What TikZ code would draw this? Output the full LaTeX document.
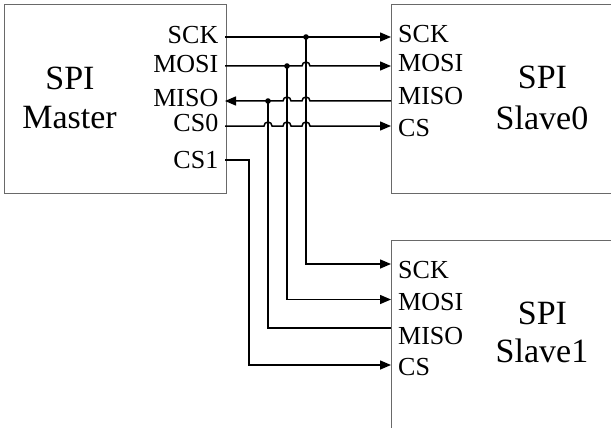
\documentclass[tikz,border=0pt]{standalone}
\usepackage{fontspec}
\setmainfont{Liberation Serif}
\usetikzlibrary{arrows.meta,calc}
\definecolor{boxgray}{RGB}{105,105,105}
\begin{document}
\begin{tikzpicture}[x=1pt,y=-1pt,
  box/.style={draw=boxgray, line width=1.1pt, inner sep=0pt, anchor=north west},
  wire/.style={line width=1.5pt, black},
  arr/.style={wire, -{Triangle[length=11pt,width=9pt]}},
  pinl/.style={font=\fontsize{26}{26}\selectfont, inner sep=0pt, anchor=base east},
  pinr/.style={font=\fontsize{26}{26}\selectfont, inner sep=0pt, anchor=base west},
  title/.style={font=\fontsize{34}{34}\selectfont, inner sep=0pt, anchor=base},
  dot/.style={fill=black}
]
\useasboundingbox (0,0) rectangle (611,428);
% boxes
\node[box, minimum width=222pt, minimum height=189pt] (master) at (4,4) {};
\node[box, minimum width=260pt, minimum height=189pt] (slave0) at (391,4) {};
\node[box, minimum width=260pt, minimum height=230pt] (slave1) at (391,240) {};
% titles
\node[title] (tm1) at (70,89) {SPI};
\node[title] (tm2) at (69.5,128.5) {Master};
\node[title] (ts01) at (542.5,88.5) {SPI};
\node[title] (ts02) at (542,129) {Slave0};
\node[title] (ts11) at (542.5,324) {SPI};
\node[title] (ts12) at (542,362) {Slave1};
% pin labels master
\node[pinl] (lm1) at (218.5,43.3) {SCK};
\node[pinl] (lm2) at (218.5,72.3) {MOSI};
\node[pinl] (lm3) at (218.5,106.7) {MISO};
\node[pinl] (lm4) at (218.5,131.7) {CS0};
\node[pinl] (lm5) at (218.5,168) {CS1};
% pin labels slave0
\node[pinr] (ls01) at (398,42.3) {SCK};
\node[pinr] (ls02) at (398,71.7) {MOSI};
\node[pinr] (ls03) at (398,105) {MISO};
\node[pinr] (ls04) at (398,136.7) {CS};
% pin labels slave1
\node[pinr] (ls11) at (398,278.5) {SCK};
\node[pinr] (ls12) at (398,310) {MOSI};
\node[pinr] (ls13) at (398,344) {MISO};
\node[pinr] (ls14) at (398,375) {CS};
% pin coordinates
\coordinate (m-sck) at (225,37);
\coordinate (m-mosi) at (225,66);
\coordinate (m-miso) at (225,101);
\coordinate (m-cs0) at (225,126);
\coordinate (m-cs1) at (225,160);
\coordinate (s0-sck) at (391,37);
\coordinate (s0-mosi) at (391,66);
\coordinate (s0-miso) at (391,101);
\coordinate (s0-cs) at (391,126);
\coordinate (s1-sck) at (391,264);
\coordinate (s1-mosi) at (391,299.5);
\coordinate (s1-miso) at (391,328);
\coordinate (s1-cs) at (391,365);
\coordinate (j-sck) at (306,37);
\coordinate (j-mosi) at (287,66);
\coordinate (j-miso) at (268,101);
\coordinate (c-cs1) at (249,160);
% wires to slave0
\draw[arr] (m-sck) -- (s0-sck);
\draw[arr] (m-mosi) -- ($(j-sck|-m-mosi)+(-4,0)$) arc(180:360:4) -- (s0-mosi);
\draw[arr] (s0-miso) -- ($(j-sck|-s0-miso)+(4,0)$) arc(0:-180:4)
  -- ($(j-mosi|-s0-miso)+(4,0)$) arc(0:-180:4) -- (m-miso);
\draw[arr] (m-cs0) -- ($(j-miso|-m-cs0)+(-4,0)$) arc(180:360:4)
  -- ($(j-mosi|-m-cs0)+(-4,0)$) arc(180:360:4)
  -- ($(j-sck|-m-cs0)+(-4,0)$) arc(180:360:4) -- (s0-cs);
% wires to slave1
\draw[arr] (j-sck) |- (s1-sck);
\draw[arr] (j-mosi) |- (s1-mosi);
\draw[wire] (s1-miso) -| (j-miso);
\draw[arr] (m-cs1) -- (c-cs1) |- (s1-cs);
% junction dots
\fill[dot] (j-sck) circle (2.8);
\fill[dot] (j-mosi) circle (2.8);
\fill[dot] (j-miso) circle (2.8);
\end{tikzpicture}
\end{document}
